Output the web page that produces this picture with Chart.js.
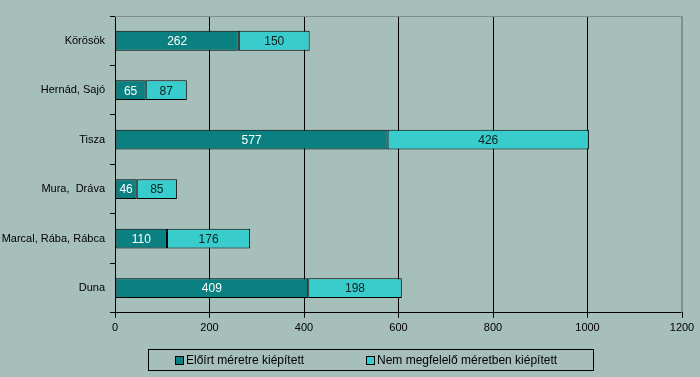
<!DOCTYPE html>
<html>
<head>
<meta charset="utf-8">
<script src="https://cdn.jsdelivr.net/npm/chart.js@4"></script>
<style>
  html, body { margin: 0; padding: 0; background: #a6bfba; }
  #wrap { position: relative; width: 700px; height: 377px; }
  #legend {
    position: absolute; left: 148px; top: 349px; width: 446px; height: 22px;
    border: 1px solid #000; box-sizing: border-box;
    font: 12px "Liberation Sans", Arial, sans-serif; color: #000;
  }
  #legend span.item { position: absolute; top: 3px; white-space: nowrap; }
  #legend i { display: inline-block; width: 9px; height: 9px; border: 1px solid #000;
    box-sizing: border-box; margin-right: 2px; vertical-align: -1px; }
</style>
</head>
<body>
<div id="wrap">
  <canvas id="c" width="700" height="377"></canvas>
  <div id="legend"></div>
</div>
<script>
// adatok
const rivers = ['Körösök', 'Hernád, Sajó', 'Tisza', 'Mura,  Dráva', 'Marcal, Rába, Rábca', 'Duna'];
const prescribed = [262, 65, 577, 46, 110, 409];
const notProper = [150, 87, 426, 85, 176, 198];
const seriesNames = ['Előírt méretre kiépített', 'Nem megfelelő méretben kiépített'];
const xTicks = [0, 200, 400, 600, 800, 1000, 1200];

const dark = '#0a8080';
const light = '#38cccc';
const font = '"Liberation Sans", Arial, sans-serif';

// feliratok a sávokon
const barLabels = {
    id: 'barLabels',
    afterDatasetsDraw(chart) {
        const ctx = chart.ctx;
        ctx.save();
        ctx.font = '12px ' + font;
        ctx.textAlign = 'center';
        ctx.textBaseline = 'middle';
        chart.data.datasets.forEach((ds, i) => {
            const meta = chart.getDatasetMeta(i);
            ctx.fillStyle = i === 0 ? '#ffffff' : '#102020';
            meta.data.forEach((el, j) => {
                ctx.fillText(ds.data[j], (el.x + el.base) / 2, el.y + 1);
            });
        });
        ctx.restore();
    },
};

// szürke keret fent és jobbra
const plotFrame = {
    id: 'plotFrame',
    beforeDatasetsDraw(chart) {
        const a = chart.chartArea, ctx = chart.ctx;
        ctx.save();
        ctx.strokeStyle = '#7f8f8c';
        ctx.lineWidth = 1;
        ctx.beginPath();
        ctx.moveTo(a.left, a.top + 0.5);
        ctx.lineTo(a.right - 0.5, a.top + 0.5);
        ctx.lineTo(a.right - 0.5, a.bottom);
        ctx.stroke();
        ctx.restore();
    },
};

new Chart(document.getElementById('c'), {
    type: 'bar',
    data: {
        labels: rivers,
        datasets: [
            { label: seriesNames[0], data: prescribed, backgroundColor: dark },
            { label: seriesNames[1], data: notProper, backgroundColor: light },
        ].map(d => Object.assign(d, {
            borderColor: '#000', borderWidth: 1, borderSkipped: false,
            categoryPercentage: 1, barPercentage: 0.4,
        })),
    },
    options: {
        indexAxis: 'y',
        responsive: false,
        animation: false,
        layout: { padding: { top: 16, right: 18, bottom: 38, left: 0 } },
        plugins: { legend: { display: false }, tooltip: { enabled: false } },
        scales: {
            x: {
                stacked: true, min: 0, max: 1200,
                afterBuildTicks: (s) => { s.ticks = xTicks.map(v => ({ value: v })); },
                border: { color: '#000', width: 1 },
                grid: {
                    color: (c) => c.tick && c.tick.value === 1200 ? '#7f8f8c' : '#000',
                    tickColor: '#000', tickLength: 5, lineWidth: 1,
                },
                ticks: {
                    color: '#000', font: { family: font, size: 11 }, padding: 4, maxRotation: 0,
                    callback: (v) => String(v),
                },
            },
            y: {
                stacked: true,
                afterFit: (s) => { s.width = 115; },
                border: { color: '#000', width: 1 },
                grid: { offset: true, drawOnChartArea: false, tickLength: 5, color: '#000' },
                ticks: { color: '#000', font: { family: font, size: 11 }, padding: 5 },
            },
        },
    },
    plugins: [plotFrame, barLabels],
});

// jelmagyarázat
const legend = document.getElementById('legend');
[[dark, 26], [light, 217]].forEach(([col, left], i) => {
    const s = document.createElement('span');
    s.className = 'item';
    s.style.left = left + 'px';
    s.innerHTML = '<i style="background:' + col + '"></i>' + seriesNames[i];
    legend.appendChild(s);
});
</script>
</body>
</html>
